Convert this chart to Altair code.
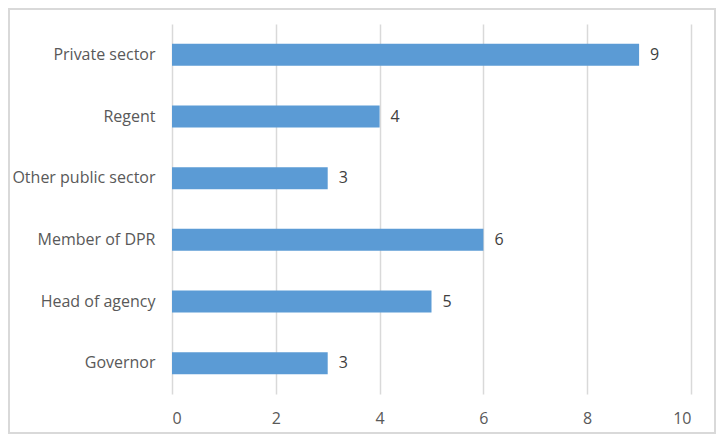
import altair as alt
import pandas as pd

categories = ["Private sector", "Regent", "Other public sector", "Member of DPR", "Head of agency", "Governor"]
values = [9, 4, 3, 6, 5, 3]
x_ticks = [0, 2, 4, 6, 8, 10]

df = pd.DataFrame({"category": categories, "value": values})

FONT = "Open Sans"
GRID = "#d9d9d9"

x_enc = alt.X("value:Q", scale=alt.Scale(domain=[0, 10], nice=False),
              axis=alt.Axis(values=x_ticks, title=None, grid=True, gridColor=GRID, gridWidth=1.5,
                            domain=False, ticks=False, labelPadding=16, labelFont=FONT,
                            labelFontSize=16, labelColor="#595959"))
y_enc = alt.Y("category:N", sort=categories,
              scale=alt.Scale(paddingInner=0.643, paddingOuter=0.3215),
              axis=alt.Axis(title=None, domain=False, ticks=False, labelPadding=17,
                            labelFont=FONT, labelFontSize=16, labelColor="#595959",
                            labelLimit=300))

bars = alt.Chart(df).mark_bar(color="#5b9bd5").encode(x=x_enc, y=y_enc)

labels = alt.Chart(df).mark_text(align="left", baseline="middle", dx=11, font=FONT,
                                 fontSize=16, color="#404040").encode(
    x="value:Q", y=alt.Y("category:N", sort=categories), text="value:Q")

border = alt.Chart(df).mark_rect(fill=None, stroke=GRID, strokeWidth=2).encode(
    x=alt.value(-163), x2=alt.value(543), y=alt.value(-15), y2=alt.value(409))

chart = alt.layer(bars, labels, border).properties(
    width=519, height=370,
    autosize=alt.AutoSizeParams(type="none"),
    padding={"left": 164, "top": 16, "right": 25, "bottom": 40},
    background="white",
).configure_view(stroke=None)

chart.save("out.html", embed_options={"renderer": "svg", "actions": False})
